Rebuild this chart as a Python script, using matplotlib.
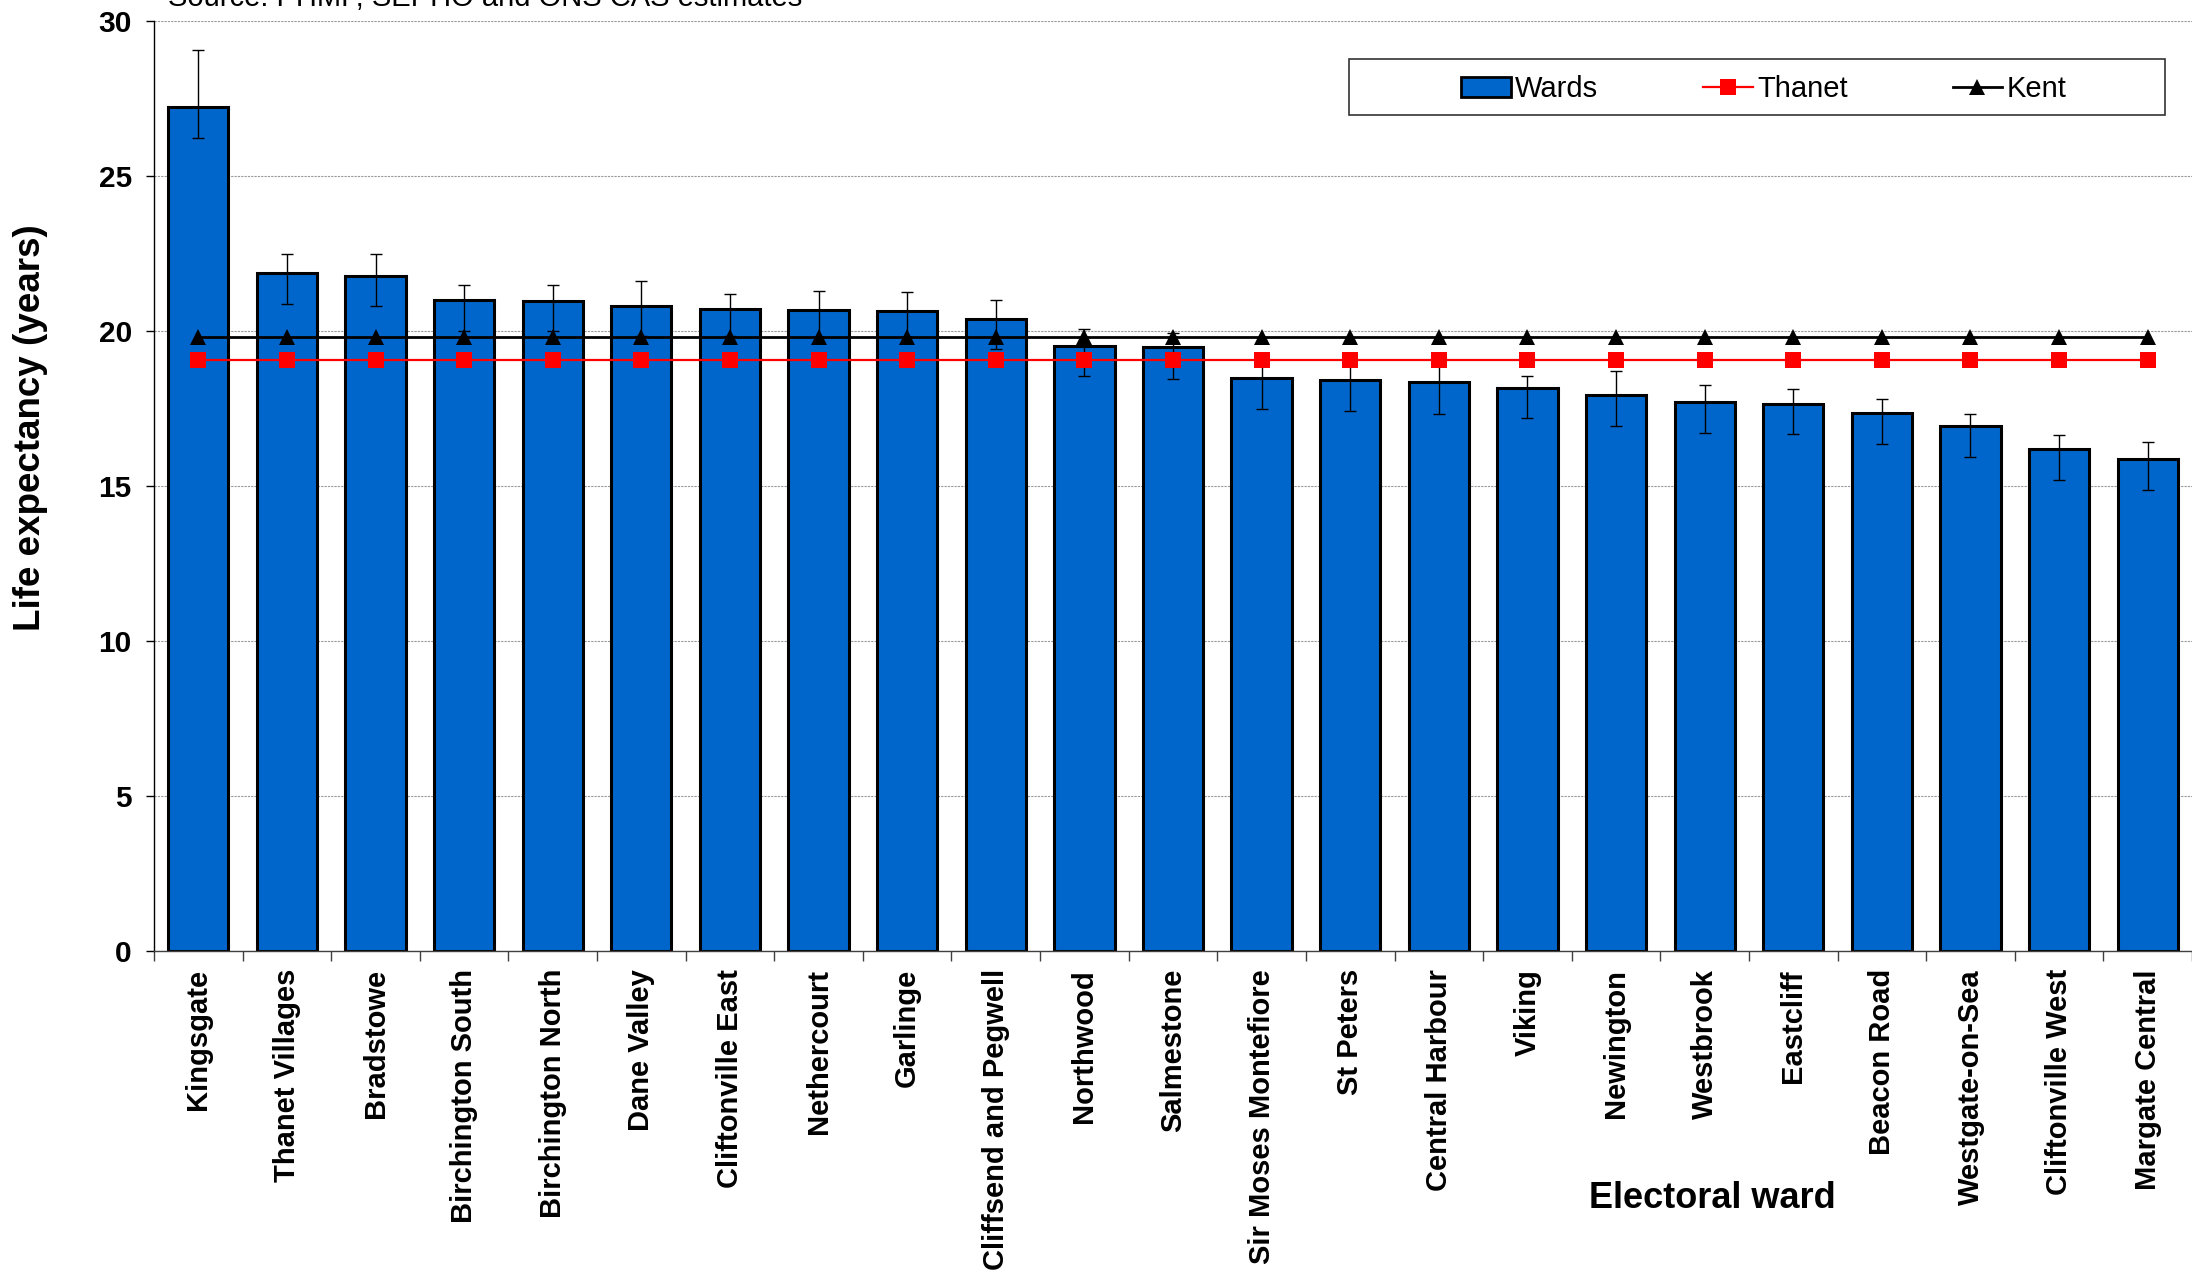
import matplotlib
matplotlib.use("Agg")
import matplotlib.pyplot as plt
from matplotlib.patches import Rectangle
from matplotlib.lines import Line2D
from matplotlib.ticker import MultipleLocator, FixedLocator
import numpy as np

W, H = 2192, 1274

wards = ["Kingsgate", "Thanet Villages", "Bradstowe", "Birchington South",
         "Birchington North", "Dane Valley", "Cliftonville East", "Nethercourt",
         "Garlinge", "Cliffsend and Pegwell", "Northwood", "Salmestone",
         "Sir Moses Montefiore", "St Peters", "Central Harbour", "Viking",
         "Newington", "Westbrook", "Eastcliff", "Beacon Road",
         "Westgate-on-Sea", "Cliftonville West", "Margate Central"]
life_exp = [27.24, 21.86, 21.79, 21.01, 20.97, 20.80, 20.71, 20.67, 20.65, 20.40,
            19.52, 19.47, 18.48, 18.43, 18.37, 18.15, 17.95, 17.70, 17.65, 17.36,
            16.95, 16.20, 15.87]
ci_low = [26.24, 20.86, 20.82, 20.00, 20.00, 19.85, 19.85, 19.80, 19.80, 19.42,
          18.54, 18.46, 17.50, 17.43, 17.33, 17.18, 16.94, 16.72, 16.68, 16.35,
          15.95, 15.19, 14.86]
ci_high = [29.08, 22.50, 22.50, 21.48, 21.48, 21.61, 21.19, 21.28, 21.27, 20.99,
           20.06, 19.92, 19.20, 19.15, 19.15, 18.54, 18.71, 18.25, 18.13, 17.80,
           17.33, 16.65, 16.43]
thanet_le = 19.06
kent_le = 19.81

plt.rcParams['font.family'] = ['Liberation Sans', 'DejaVu Sans']

fig = plt.figure(figsize=(W / 100, H / 100), dpi=100)
ax = fig.add_axes([154 / W, 1 - 951 / H, 1 - 154 / W, (951 - 21) / H])

x = np.arange(len(wards))
vals = np.array(life_exp)
yerr = [vals - np.array(ci_low), np.array(ci_high) - vals]

ax.bar(x, vals, width=0.68, color='#0066CC', edgecolor='black', linewidth=2.2, zorder=2)
ax.errorbar(x, vals, yerr=yerr, fmt='none', ecolor='black', elinewidth=1.0,
            capsize=4.5, capthick=1.0, zorder=3)
ax.plot(x, [thanet_le] * len(x), color='#FF0000', lw=1.6, marker='s',
        markersize=11, markeredgewidth=0, zorder=4)
ax.plot(x, [kent_le] * len(x), color='black', lw=2.0, marker='^',
        markersize=11.5, markeredgewidth=0, zorder=5)

ax.set_xlim(-0.5, len(x) - 0.5)
ax.set_ylim(0, 30)
ax.yaxis.set_major_locator(MultipleLocator(5))
ax.grid(axis='y', color='#999999', linestyle=(0, (2, 1)), linewidth=0.8)
ax.set_axisbelow(True)

ax.set_xticks(x)
ax.set_xticklabels(wards, rotation=90, fontsize=21, fontweight='bold', va='top')
ax.xaxis.set_minor_locator(FixedLocator(np.arange(-0.5, len(x), 1.0)))
ax.tick_params(axis='x', which='major', length=0, pad=13)
ax.tick_params(axis='x', which='minor', length=7, width=1, color='#404040', direction='out')
ax.tick_params(axis='y', length=6, width=1, direction='out', pad=10, labelsize=21.5)
for lab in ax.get_yticklabels():
    lab.set_fontweight('bold')

for s in ['top', 'right']:
    ax.spines[s].set_visible(False)
ax.spines['left'].set_color('black')
ax.spines['left'].set_linewidth(1.0)
ax.spines['bottom'].set_color('#404040')
ax.spines['bottom'].set_linewidth(1.0)

fig.text(31 / W, 1 - 428 / H, "Life expectancy (years)", rotation=90,
         ha='center', va='center', fontsize=26.5, fontweight='bold')
fig.text(1712 / W, 1 - 1199 / H, "Electoral ward", ha='center', va='center',
         fontsize=26, fontweight='bold')
fig.text(168 / W, 1 - 6 / H, "Source: PHMF, SEPHO and ONS CAS estimates",
         ha='left', va='baseline', fontsize=21)

# legend: frame drawn separately to match the wide padded box
fig.add_artist(Rectangle((1349 / W, 1 - 115 / H), 816 / W, 56 / H,
                         transform=fig.transFigure, fill=False,
                         edgecolor='#333333', linewidth=1.2))
handles = [
    Rectangle((0, 0), 1, 1, facecolor='#0066CC', edgecolor='black', linewidth=2.0),
    Line2D([], [], color='#FF0000', lw=1.6, marker='s', markersize=11, markeredgewidth=0),
    Line2D([], [], color='black', lw=2.0, marker='^', markersize=11, markeredgewidth=0),
]
fig.legend(handles, ["Wards", "Thanet", "Kent"], loc='center left',
           bbox_to_anchor=(1461 / W, 1 - 89 / H), ncol=3, frameon=False,
           fontsize=21, handlelength=1.7, handletextpad=0.15,
           columnspacing=3.6, borderpad=0, borderaxespad=0)

fig.savefig("out.png", dpi=100)
